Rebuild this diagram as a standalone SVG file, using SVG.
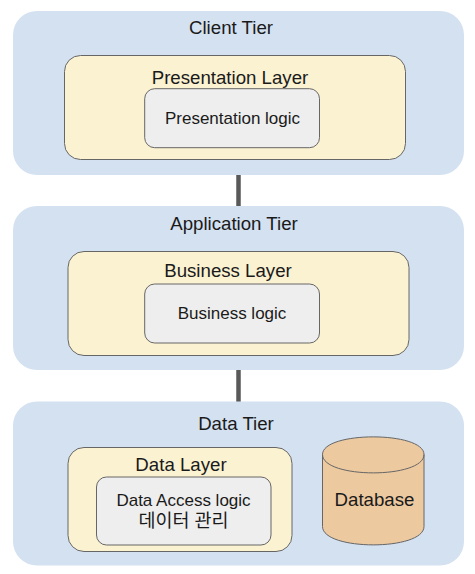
<svg xmlns="http://www.w3.org/2000/svg" width="475" height="574" viewBox="0 0 475 574">
<style>
text{font-family:"Liberation Sans","Noto Sans CJK KR",sans-serif;fill:#1a1a1a;text-anchor:middle}
.tier{fill:#d4e1f1}
.layer{fill:#fbf2d2;stroke:#666666;stroke-width:1}
.logic{fill:#eeeeee;stroke:#666666;stroke-width:1}
.t{font-size:18.67px}
.s{font-size:17px}
.k{font-size:18.500px}
.c{stroke:#595959;stroke-width:4.500;fill:none}
</style>
<rect width="475" height="574" fill="#ffffff"/>
<g id="connectors">
<line class="c" x1="238.500" y1="175" x2="238.500" y2="206"/>
<line class="c" x1="238.500" y1="370" x2="238.500" y2="402"/>
</g>
<g id="client-tier">
<rect class="tier" x="13" y="11" width="451" height="164" rx="24"/>
<text class="t" x="231" y="34">Client Tier</text>
</g>
<g id="presentation-layer">
<rect class="layer" x="64.500" y="55.500" width="341" height="104" rx="16"/>
<text class="t" x="230" y="84">Presentation Layer</text>
</g>
<g id="presentation-logic">
<rect class="logic" x="144.700" y="88.700" width="174.800" height="59" rx="10"/>
<text class="s" x="232.500" y="124">Presentation logic</text>
</g>
<g id="application-tier">
<rect class="tier" x="13" y="206" width="451" height="164" rx="24"/>
<text class="t" x="234" y="230">Application Tier</text>
</g>
<g id="business-layer">
<rect class="layer" x="68" y="251.500" width="341" height="104" rx="16"/>
<text class="t" x="228" y="277">Business Layer</text>
</g>
<g id="business-logic">
<rect class="logic" x="144.700" y="284" width="174.800" height="59" rx="10"/>
<text class="s" x="232" y="319">Business logic</text>
</g>
<g id="data-tier">
<rect class="tier" x="13" y="401.500" width="451" height="164" rx="24"/>
<text class="t" x="236" y="430">Data Tier</text>
</g>
<g id="data-layer">
<rect class="layer" x="68" y="447.500" width="224" height="104" rx="16"/>
<text class="t" x="181" y="471">Data Layer</text>
</g>
<g id="data-access-logic">
<rect class="logic" x="96.500" y="477" width="174.500" height="68" rx="10"/>
<text class="s" x="183.500" y="506">Data Access logic</text>
<text class="k" x="183.500" y="527">데이터 관리</text>
</g>
<g id="database">
<path d="M322.500 454.500C322.500 431 424 431 424 454.500V526.500C424 551 322.500 551 322.500 526.500Z" fill="#edc9a0" stroke="#666666"/>
<path d="M322.500 454.500C322.500 479 424 479 424 454.500" fill="none" stroke="#666666"/>
<text class="t" x="374.500" y="506">Database</text>
</g>
</svg>
